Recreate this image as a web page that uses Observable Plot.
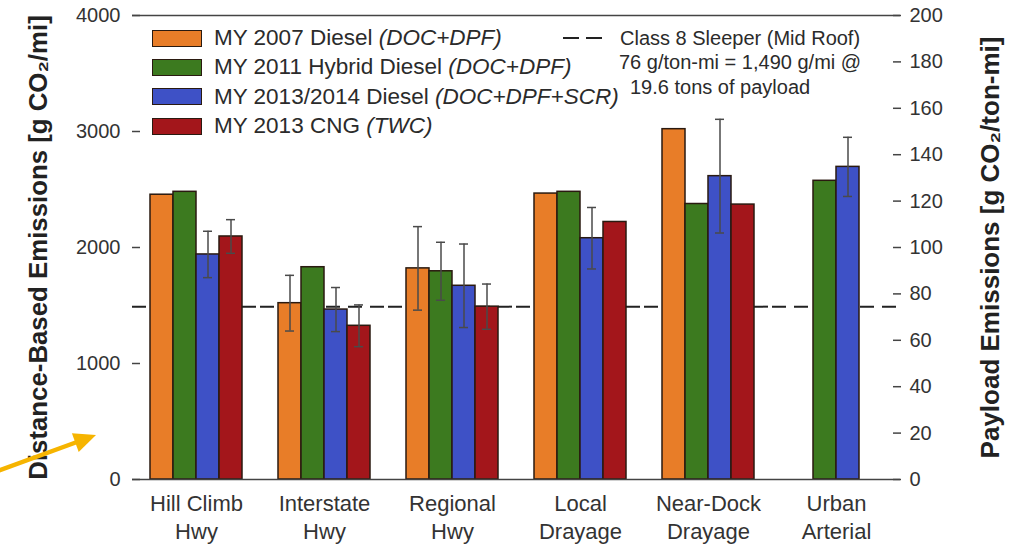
<!DOCTYPE html>
<html><head><meta charset="utf-8">
<script src="https://cdn.jsdelivr.net/npm/d3@7"></script>
<script src="https://cdn.jsdelivr.net/npm/@observablehq/plot@0.6"></script>
<style>
html,body{margin:0;padding:0;background:#fff;}
#wrap{position:relative;width:1019px;height:544px;overflow:hidden;font-family:"Liberation Sans",Arial,sans-serif;}
#chart svg{display:block;}
.legend{position:absolute;left:152px;top:23.5px;color:#2b2b2b;font-size:22.5px;}
.legend .row{display:flex;align-items:center;height:29.3px;white-space:nowrap;}
.legend .sw{width:48px;height:15px;border:1.5px solid #2a1a10;margin-right:12px;}
.note{position:absolute;left:563px;top:25.5px;color:#2b2b2b;font-size:20px;line-height:24.5px;white-space:nowrap;}
.note .l{display:flex;align-items:center;}
.note .dash{width:39px;height:4px;margin-right:18px;}
.note .ind{padding-left:67px;}
.note .ind2{padding-left:56px;}
#arrow{position:absolute;left:0;top:0;pointer-events:none;}
</style>
</head><body>
<div id="wrap"><div id="chart"></div></div>
<script>
// ---- data ----
const categories = ["Hill Climb\nHwy","Interstate\nHwy","Regional\nHwy","Local\nDrayage","Near-Dock\nDrayage","Urban\nArterial"];
const series = ["MY 2007 Diesel","MY 2011 Hybrid Diesel","MY 2013/2014 Diesel","MY 2013 CNG"];
const seriesNotes = ["(DOC+DPF)","(DOC+DPF)","(DOC+DPF+SCR)","(TWC)"];
const seriesColors = ["#E87D28","#3C7A1F","#3E51C6","#A3161B"];
const diesel2007 = [2455, 1520, 1820, 2465, 3020, null];
const hybrid2011 = [2480, 1830, 1795, 2480, 2375, 2575];
const diesel2013 = [1940, 1465, 1670, 2080, 2615, 2695];
const cng2013    = [2095, 1325, 1490, 2220, 2370, null];
const err2007    = [null, 240, 360, null, null, null];
const err2011    = [null, null, 250, null, null, null];
const err2013    = [200, 190, 360, 265, 490, 255];
const errCNG     = [145, 180, 195, null, null, null];
const leftTicks  = [0, 1000, 2000, 3000, 4000];
const rightTicks = [0, 20, 40, 60, 80, 100, 120, 140, 160, 180, 200];
const classLine = 1490;      // g/mi, Class 8 sleeper reference
const payloadFactor = 20;    // right axis: g/ton-mi shown against g/mi
const noteLines = ["Class 8 Sleeper (Mid Roof)","76 g/ton-mi = 1,490 g/mi @","19.6 tons of payload"];

// ---- table ----
const valueLists = [diesel2007, hybrid2011, diesel2013, cng2013];
const errLists = [err2007, err2011, err2013, errCNG];
const rows = [];
series.forEach((s, i) => categories.forEach((c, j) => {
  const v = valueLists[i][j];
  if (v != null) rows.push({category: c, series: s, value: v, err: errLists[i][j]});
}));
const errRows = rows.filter(d => d.err != null).map(d => ({...d, lo: d.value - d.err, hi: d.value + d.err}));

const errStroke = "#4a4a4a";
const axisStroke = "#444";
const chart = Plot.plot({
  width: 1019, height: 544,
  marginLeft: 130, marginRight: 117, marginTop: 15, marginBottom: 65,
  style: {fontFamily: "'Liberation Sans', Arial, sans-serif", fontSize: "20px", color: "#333", background: "white"},
  fx: {domain: categories, padding: 0},
  x: {domain: series, paddingInner: 0, paddingOuter: 0.68, axis: null},
  y: {domain: [0, 4000]},
  color: {domain: series, range: seriesColors},
  marks: [
    Plot.ruleY([classLine], {stroke: "#222", strokeWidth: 2, strokeDasharray: "14,8"}),
    Plot.barY(rows, {fx: "category", x: "series", y: "value", fill: "series", stroke: "#2a1a10", strokeWidth: 1.5}),
    Plot.ruleX(errRows, {fx: "category", x: "series", y1: "lo", y2: "hi", stroke: errStroke, strokeWidth: 1.5}),
    Plot.tickY(errRows, {fx: "category", x: "series", y: "hi", insetLeft: 7, insetRight: 7, stroke: errStroke, strokeWidth: 1.5}),
    Plot.tickY(errRows, {fx: "category", x: "series", y: "lo", insetLeft: 7, insetRight: 7, stroke: errStroke, strokeWidth: 1.5}),
    Plot.ruleY([0, 4000], {stroke: axisStroke, strokeWidth: 1.5}),
    // left axis: inward ticks + line, then labels, then title
    Plot.axisY({anchor: "left", ticks: leftTicks, tickSize: 8, dx: 8, fill: "none", label: null, stroke: axisStroke, strokeWidth: 1.5}),
    Plot.axisY({anchor: "left", ticks: leftTicks, tickSize: 0, tickPadding: 12, tickFormat: d => String(d), label: null, line: true, stroke: axisStroke, strokeWidth: 1.5}),
    Plot.axisY({anchor: "left", ticks: [], tickSize: 0, label: "Distance-Based Emissions [g CO\u2082/mi]", labelAnchor: "center", labelArrow: "none", labelOffset: 104, fontWeight: "bold", fontSize: 25.8, fill: "#222"}),
    // right axis (payload)
    Plot.axisY({anchor: "right", ticks: rightTicks.map(d => d * payloadFactor), tickSize: 8, dx: -8, fill: "none", label: null, stroke: axisStroke, strokeWidth: 1.5}),
    Plot.axisY({anchor: "right", ticks: rightTicks.map(d => d * payloadFactor), tickSize: 0, tickPadding: 9, tickFormat: d => String(d / payloadFactor), label: null, line: true, stroke: axisStroke, strokeWidth: 1.5}),
    Plot.axisY({anchor: "right", ticks: [], tickSize: 0, label: "Payload Emissions [g CO\u2082/ton-mi]", labelAnchor: "center", labelArrow: "none", labelOffset: 98, fontWeight: "bold", fontSize: 26, fill: "#222"}),
    Plot.axisFx({anchor: "bottom", tickSize: 0, tickPadding: 12, fontSize: 22, lineHeight: 1.27, label: null})
  ]
});
document.getElementById("chart").appendChild(chart);

// ---- legend (inside plot, top-left) ----
const wrap = document.getElementById("wrap");
const legend = document.createElement("div");
legend.className = "legend";
series.forEach((s, i) => {
  const row = document.createElement("div");
  row.className = "row";
  const sw = document.createElement("span");
  sw.className = "sw";
  sw.style.background = seriesColors[i];
  const t = document.createElement("span");
  t.innerHTML = s + " <i>" + seriesNotes[i] + "</i>";
  row.appendChild(sw); row.appendChild(t);
  legend.appendChild(row);
});
wrap.appendChild(legend);

// ---- dashed-line note ----
const note = document.createElement("div");
note.className = "note";
note.innerHTML =
  '<div class="l"><svg class="dash" width="39" height="4"><line x1="0" y1="2" x2="39" y2="2" stroke="#222" stroke-width="2.2" stroke-dasharray="16,7"/></svg><span>' + noteLines[0] + '</span></div>' +
  '<div class="ind2">' + noteLines[1] + '</div>' +
  '<div class="ind">' + noteLines[2] + '</div>';
wrap.appendChild(note);

// ---- highlight arrow overlay ----
const ns = "http://www.w3.org/2000/svg";
const arrow = document.createElementNS(ns, "svg");
arrow.setAttribute("id", "arrow");
arrow.setAttribute("width", 1019); arrow.setAttribute("height", 544);
arrow.innerHTML = '<line x1="-5" y1="472" x2="77" y2="442" stroke="#F6B400" stroke-width="4.5"/>' +
  '<polygon points="96,435 78.7,452 71.9,433.2" fill="#F6B400"/>';
wrap.appendChild(arrow);
</script>
</body></html>
